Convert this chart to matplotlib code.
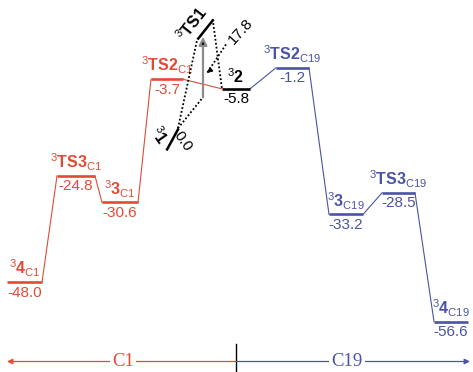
import numpy as np
import matplotlib
matplotlib.use('Agg')
import matplotlib.pyplot as plt
from matplotlib.markers import MarkerStyle
from matplotlib.transforms import Affine2D, blended_transform_factory

plt.rcParams['font.family'] = ['Liberation Sans', 'DejaVu Sans']
plt.rcParams['mathtext.fontset'] = 'custom'
plt.rcParams['mathtext.rm'] = 'Liberation Sans'
plt.rcParams['mathtext.bf'] = 'Liberation Sans:bold'
plt.rcParams['mathtext.it'] = 'Liberation Sans:italic'

# triplet surface, relative energies (kcal/mol)
species = ['4', 'TS3', '3', 'TS2', '2', 'TS2', '3', 'TS3', '4']
sites = ['C1', 'C1', 'C1', 'C1', '', 'C19', 'C19', 'C19', 'C19']
energy = [-48.0, -24.8, -30.6, -3.7, -5.8, -1.2, -33.2, -28.5, -56.6]

# entry step 1 -> TS1 -> 2, drawn on its own scale
entry_species = ['1', 'TS1']
entry_energy = [0.0, 17.8]

branches = ['C1', 'C19']

# layout
xpos = [24.5, 76, 120, 167, 236, 292.5, 346, 398.5, 451]
half = [17.5, 19, 18, 16, 14, 16.5, 17, 16.5, 17]
entry_x = [171.5, 205]
entry_angle = [59, 52]
entry_len = 18  # points

RED = '#e14b36'
BLUE = '#4a53a6'
site_color = {'C1': RED, 'C19': BLUE, '': 'black'}

fig = plt.figure(figsize=(4.73, 3.72), dpi=100)
ax = fig.add_axes([0, 0, 1, 1])
ax.set_xlim(0, 473)
ax.set_ylim(-67.6, 13.6)
ax.axis('off')

ax2 = ax.twinx()
ax2.set_ylim(-37.7, 22.5)
ax2.axis('off')

# levels and connectors
for i, (sp, site, e) in enumerate(zip(species, sites, energy)):
    c = site_color[site]
    x = xpos[i]
    ax.hlines(e, x - half[i], x + half[i], color=c, lw=1.9, zorder=3)
    if i < len(species) - 1:
        lc = c if site else site_color[sites[i + 1]]
        ax.plot([x + half[i], xpos[i + 1] - half[i + 1]], [e, energy[i + 1]],
                color=lc, lw=0.8, zorder=2)
    if site:
        name = r'$^{3}\mathbf{%s}_{\mathrm{%s}}$' % (sp, site)
    else:
        name = r'$^{3}\mathbf{%s}$' % sp
    ax.annotate(name, (x, e), xytext=(0, 2), textcoords='offset points',
                ha='center', va='bottom', fontsize=11.5, color=c)
    ax.annotate(f'{e:.1f}', (x, e), xytext=(0, -2.5), textcoords='offset points',
                ha='center', va='top', fontsize=11, color=c)

# tilted levels for 1 and TS1
px_len = entry_len * fig.dpi / 72
ends = []
for x, e, ang in zip(entry_x, entry_energy, entry_angle):
    m = MarkerStyle('_', transform=Affine2D().rotate_deg(ang))
    ax2.plot([x], [e], marker=m, ms=entry_len, mew=1.8, color='black', zorder=4)
    cx, cy = ax2.transData.transform((x, e))
    dx = 0.5 * px_len * np.cos(np.radians(ang))
    dy = 0.5 * px_len * np.sin(np.radians(ang))
    inv = ax2.transData.inverted()
    ends.append((inv.transform((cx - dx, cy - dy)), inv.transform((cx + dx, cy + dy))))

e1, ets1 = entry_energy
barrier = ets1 - e1
lvl2 = ax2.transData.inverted().transform(
    ax.transData.transform((xpos[4] - half[4], energy[4])))

dots = dict(color='black', ls=(0, (1, 1.2)), lw=1.3, zorder=2)
top1 = ends[0][1]
low_ts1, top_ts1 = ends[1]
ax2.plot([top1[0], low_ts1[0]], [top1[1], low_ts1[1]], **dots)
arrow_x = entry_x[1] - 2
tail = e1 + 0.38 * barrier
ax2.plot([top1[0], arrow_x], [top1[1], tail], **dots)
ax2.plot([top_ts1[0], lvl2[0]], [top_ts1[1], lvl2[1]], **dots)

# barrier arrow
ax2.annotate('', xy=(arrow_x, e1 + 0.93 * barrier), xytext=(arrow_x, tail),
             arrowprops=dict(arrowstyle='-|>', ec='0.55', fc='black', lw=1.6,
                             mutation_scale=12, shrinkA=0, shrinkB=0), zorder=3)

# barrier height label with dotted pointer
ax2.text(entry_x[1] + 36, e1 + 0.98 * barrier, f'{barrier:.1f}', rotation=48,
         ha='center', va='center', fontsize=11, rotation_mode='anchor')
p_tail = (entry_x[1] + 21, e1 + 0.86 * barrier)
p_head = (entry_x[1] + 2, e1 + 0.6 * barrier)
ax2.plot([p_tail[0], p_head[0]], [p_tail[1], p_head[1]], **dots)
ax2.annotate('', xy=p_head, xytext=(p_head[0] + 2.5, p_head[1] + 0.35),
             arrowprops=dict(arrowstyle='-|>', color='black', lw=0.8,
                             mutation_scale=8, shrinkA=0, shrinkB=0))

# labels on the tilted levels
ax2.annotate(r'$^{3}\mathbf{%s}$' % entry_species[1], (entry_x[1], ets1),
             xytext=(-9, 4), textcoords='offset points', rotation=52,
             ha='center', va='center', fontsize=11.5, rotation_mode='anchor')
ax2.annotate(r'$^{3}\mathbf{%s}$' % entry_species[0], (entry_x[0], e1),
             xytext=(-9, 3), textcoords='offset points', rotation=-55,
             ha='center', va='center', fontsize=11.5, rotation_mode='anchor')
ax2.annotate(f'{e1:.1f}', (entry_x[0], e1), xytext=(8, -2), textcoords='offset points',
             rotation=-55, ha='center', va='center', fontsize=11, rotation_mode='anchor')

# site axis along the bottom
trans = blended_transform_factory(ax.transData, ax.transAxes)
yb = 1 - 361.5 / 372
split = xpos[4]
ax.annotate('', xy=(7, yb), xytext=(split, yb), xycoords=trans, textcoords=trans,
            arrowprops=dict(arrowstyle='-|>', color=RED, lw=0.9, mutation_scale=8,
                            shrinkA=0, shrinkB=0))
ax.annotate('', xy=(470, yb), xytext=(split, yb), xycoords=trans, textcoords=trans,
            arrowprops=dict(arrowstyle='-|>', color=BLUE, lw=0.9, mutation_scale=8,
                            shrinkA=0, shrinkB=0))
ax.plot([split, split], [0, 0.075], transform=trans, color='black', lw=1)
for label, xl, c in zip(branches, [123, 347], [RED, BLUE]):
    ax.text(xl, yb, label, transform=trans, ha='center', va='center', color=c,
            fontsize=13.5, family='Liberation Serif', zorder=5,
            bbox=dict(fc='white', ec='none', pad=1.5))

fig.savefig('out.png', dpi=100)
